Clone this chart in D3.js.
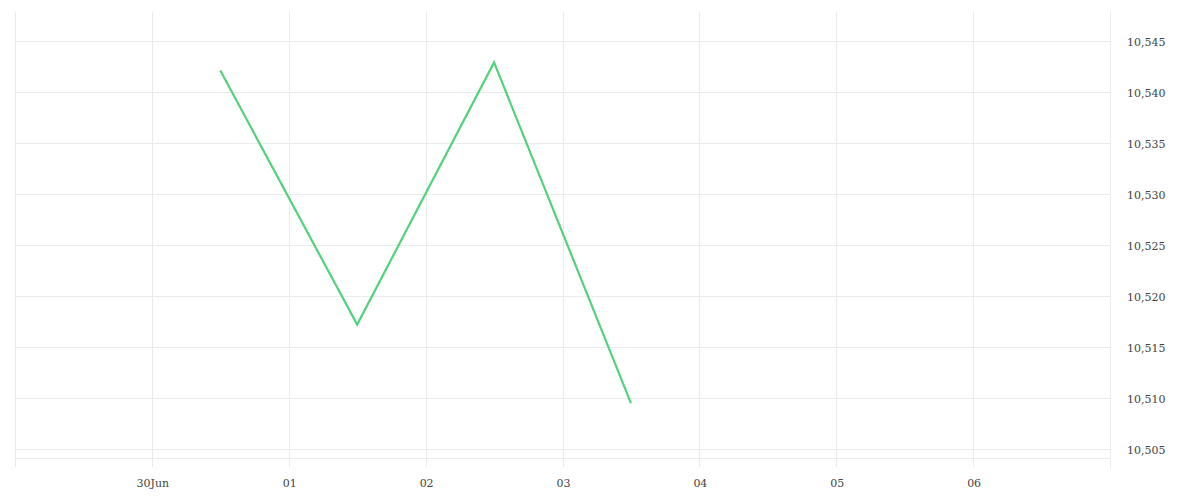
<!DOCTYPE html>
<html>
<head>
<meta charset="utf-8">
<script src="https://cdn.jsdelivr.net/npm/d3@7"></script>
<style>
  html, body { margin: 0; padding: 0; background: #fff; }
  svg text { font-family: "DejaVu Serif", serif; font-size: 11px; fill: #444; }
</style>
</head>
<body>
<svg id="chart" width="1200" height="500"></svg>
<script>
// Data
const dates = ["2023-06-30T12:00", "2023-07-01T12:00", "2023-07-02T12:00", "2023-07-03T12:00"];
const values = [10.5421, 10.5172, 10.5429, 10.5095];
const yTicks = [10.505, 10.510, 10.515, 10.520, 10.525, 10.530, 10.535, 10.540, 10.545];
const xTicks = ["2023-06-30", "2023-07-01", "2023-07-02", "2023-07-03", "2023-07-04", "2023-07-05", "2023-07-06"];
const xDomain = ["2023-06-29", "2023-07-07"];
const yDomain = [10.50324, 10.54784];

const parse = d3.timeParse("%Y-%m-%dT%H:%M");
const parseDay = d3.timeParse("%Y-%m-%d");

const svg = d3.select("#chart");
const mLeft = 15, mRight = 1110, mTop = 12, mBottom = 467;

const x = d3.scaleTime().domain(xDomain.map(parseDay)).range([mLeft, mRight]);
const y = d3.scaleLinear().domain(yDomain).range([mBottom, mTop]);

const grid = "#ebebeb";

// horizontal gridlines
svg.append("g").selectAll("line").data(yTicks).join("line")
  .attr("x1", mLeft).attr("x2", mRight)
  .attr("y1", d => Math.round(y(d)) + 0.5).attr("y2", d => Math.round(y(d)) + 0.5)
  .attr("stroke", grid).attr("stroke-width", 1);

// bottom baseline
svg.append("line")
  .attr("x1", mLeft).attr("x2", mRight)
  .attr("y1", mBottom - 9 + 0.5).attr("y2", mBottom - 9 + 0.5)
  .attr("stroke", grid);

// vertical gridlines (including left edge)
const xTickDates = xTicks.map(parseDay);
svg.append("g").selectAll("line").data([parseDay(xDomain[0])].concat(xTickDates)).join("line")
  .attr("x1", d => Math.round(x(d)) + 0.5).attr("x2", d => Math.round(x(d)) + 0.5)
  .attr("y1", mTop).attr("y2", mBottom)
  .attr("stroke", grid);

// right axis line
svg.append("line")
  .attr("x1", mRight + 0.5).attr("x2", mRight + 0.5)
  .attr("y1", mTop).attr("y2", mBottom + 1)
  .attr("stroke", grid);

// y labels
const fmt = d3.format(",.3f");
svg.append("g").selectAll("text").data(yTicks).join("text")
  .attr("x", mRight + 17)
  .attr("y", d => y(d) + 2)
  .attr("dominant-baseline", "middle")
  .text(d => fmt(d).replace(".", ","));

// x labels
const xfmt = d => (d.getDate() === 30 ? d3.timeFormat("%d")(d) + "Jun" : d3.timeFormat("%d")(d));
svg.append("g").selectAll("text").data(xTickDates).join("text")
  .attr("x", d => x(d) + 1)
  .attr("y", 487)
  .attr("text-anchor", "middle")
  .text(xfmt);

// line
const pts = dates.map((d, i) => [parse(d), values[i]]);
svg.append("path")
  .datum(pts)
  .attr("fill", "none")
  .attr("stroke", "#52d27c")
  .attr("stroke-width", 2.2)
  .attr("stroke-linejoin", "miter")
  .attr("d", d3.line().x(d => x(d[0])).y(d => y(d[1])));
</script>
</body>
</html>
